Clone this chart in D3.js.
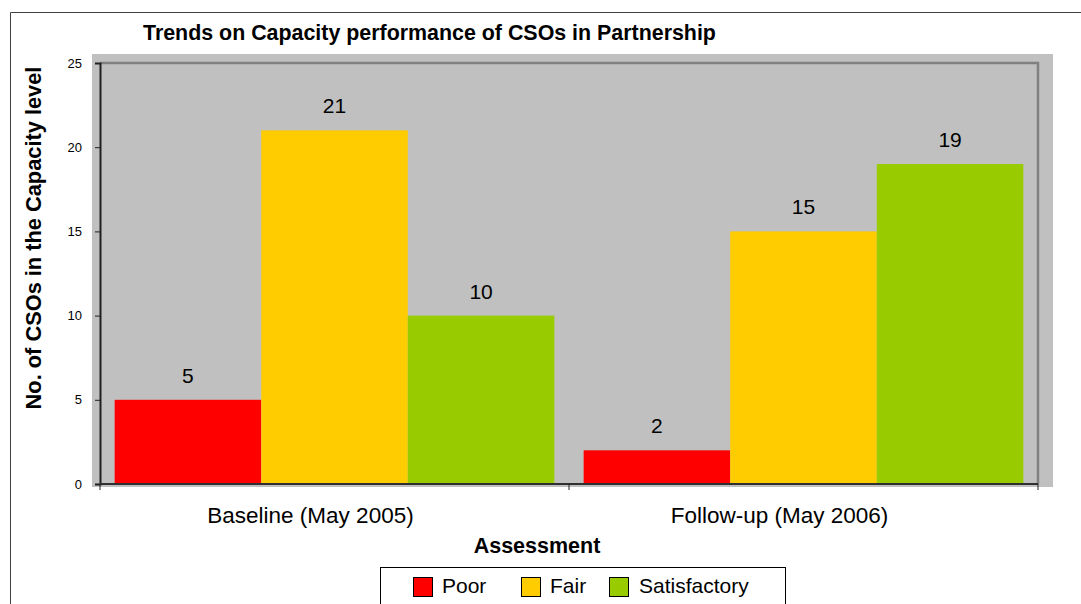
<!DOCTYPE html>
<html>
<head>
<meta charset="utf-8">
<script src="https://cdn.jsdelivr.net/npm/d3@7"></script>
<style>
  html, body { margin: 0; padding: 0; background: #ffffff; }
  svg { display: block; font-family: Arial, "Liberation Sans", sans-serif; }
</style>
</head>
<body>
<svg id="chart" width="1081" height="604"></svg>
<script>
// Assessment rounds and capacity levels
const categories = ["Baseline (May 2005)", "Follow-up (May 2006)"];
const levels = ["Poor", "Fair", "Satisfactory"];
const poorValues = [5, 2];
const fairValues = [21, 15];
const satisfactoryValues = [10, 19];
const yTicks = [0, 5, 10, 15, 20, 25];
const levelColors = ["#FF0000", "#FFCC00", "#99CC00"];

const seriesValues = [poorValues, fairValues, satisfactoryValues];
const rows = [];
categories.forEach((c, ci) => {
  levels.forEach((l, li) => rows.push({ category: c, level: l, value: seriesValues[li][ci], color: levelColors[li] }));
});

const svg = d3.select("#chart");
const plot = { left: 100, right: 1038, top: 63, bottom: 484 };

// outer chart frame (top and left edges are visible)
svg.append("path")
  .attr("d", "M10.5,604 V12.5 H1081")
  .attr("fill", "none").attr("stroke", "#404040").attr("stroke-width", 1);

// grey plot background
svg.append("rect")
  .attr("x", 92).attr("y", 54)
  .attr("width", 1053 - 92).attr("height", 487 - 54)
  .attr("fill", "#C0C0C0");

const x = d3.scaleBand().domain(categories).range([plot.left, plot.right]).paddingInner(0).paddingOuter(0);
const xInner = d3.scaleBand().domain(levels).range([0, x.bandwidth()]).paddingOuter(0.1);
const y = d3.scaleLinear().domain([0, 25]).range([plot.bottom, plot.top]);

// plot frame: top and right edges
svg.append("path")
  .attr("d", `M${plot.left},${plot.top} H${plot.right} V${plot.bottom}`)
  .attr("fill", "none").attr("stroke", "#808080").attr("stroke-width", 2.5);

// bars
svg.append("g").selectAll("rect").data(rows).join("rect")
  .attr("x", d => x(d.category) + xInner(d.level))
  .attr("y", d => y(d.value))
  .attr("width", xInner.bandwidth())
  .attr("height", d => y(0) - y(d.value))
  .attr("fill", d => d.color);

// value labels
svg.append("g").selectAll("text").data(rows).join("text")
  .attr("x", d => x(d.category) + xInner(d.level) + xInner.bandwidth() / 2)
  .attr("y", d => y(d.value) - 17)
  .attr("text-anchor", "middle")
  .attr("font-size", 21)
  .attr("fill", "#000")
  .text(d => d.value);

// y axis
const yAxis = svg.append("g")
  .attr("transform", `translate(${plot.left},0)`)
  .call(d3.axisLeft(y).tickValues(yTicks).tickSize(5).tickPadding(13).tickFormat(d3.format("d")));
yAxis.select(".domain").attr("stroke", "#202020").attr("stroke-width", 2);
yAxis.selectAll(".tick line").attr("stroke", "#202020");
yAxis.selectAll(".tick text").attr("font-size", 13).attr("font-family", "Arial, 'Liberation Sans', sans-serif").attr("fill", "#000");

// x axis: ticks at category boundaries
const xAxisG = svg.append("g");
xAxisG.append("line")
  .attr("x1", plot.left).attr("x2", plot.right)
  .attr("y1", plot.bottom).attr("y2", plot.bottom)
  .attr("stroke", "#303030").attr("stroke-width", 2);
const boundaries = categories.map(c => x(c)).concat([x.range()[1]]);
xAxisG.selectAll("line.tick").data(boundaries).join("line")
  .attr("class", "tick")
  .attr("x1", d => d).attr("x2", d => d)
  .attr("y1", plot.bottom).attr("y2", plot.bottom + 6)
  .attr("stroke", "#202020").attr("stroke-width", 1);
xAxisG.selectAll("text").data(categories).join("text")
  .attr("x", d => x(d) + x.bandwidth() / 2 - 24)
  .attr("y", plot.bottom + 39)
  .attr("text-anchor", "middle")
  .attr("font-size", 22.5)
  .attr("fill", "#000")
  .text(d => d);

// title
svg.append("text")
  .attr("x", 143).attr("y", 40)
  .attr("font-size", 21.4).attr("font-weight", "bold")
  .text("Trends on Capacity performance of CSOs in Partnership");

// axis titles
svg.append("text")
  .attr("x", 537).attr("y", 553)
  .attr("text-anchor", "middle")
  .attr("font-size", 21.5).attr("font-weight", "bold")
  .text("Assessment");

svg.append("text")
  .attr("transform", "translate(41,238) rotate(-90)")
  .attr("text-anchor", "middle")
  .attr("font-size", 21.8).attr("font-weight", "bold")
  .text("No. of CSOs in the Capacity level");

// legend
const legend = svg.append("g");
legend.append("rect")
  .attr("x", 380.5).attr("y", 567.5).attr("width", 405).attr("height", 60)
  .attr("fill", "#fff").attr("stroke", "#000").attr("stroke-width", 1);
const legendX = [413, 521, 609];
const legendItems = legend.selectAll("g.item").data(levels).join("g")
  .attr("class", "item")
  .attr("transform", (d, i) => `translate(${legendX[i]},577)`);
legendItems.append("rect")
  .attr("x", 0.5).attr("y", 0.5).attr("width", 19).attr("height", 19)
  .attr("fill", (d, i) => levelColors[i]).attr("stroke", "#000").attr("stroke-width", 1);
legendItems.append("text")
  .attr("x", (d, i) => i === 2 ? 30 : 29).attr("y", 16)
  .attr("font-size", 21).attr("fill", "#000")
  .text(d => d);
</script>
</body>
</html>
